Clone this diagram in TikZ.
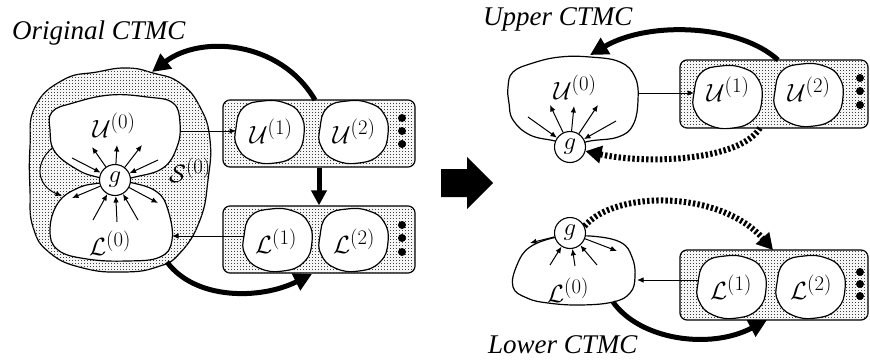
\documentclass[tikz,border=0pt]{standalone}
\usepackage[no-math]{fontspec}
\setmainfont{Liberation Serif}
\usetikzlibrary{arrows.meta,patterns.meta}
\tikzdeclarepattern{name=stipdots,type=uncolored,bounding box={(0pt,0pt) and (3pt,3pt)},tile size={(3pt,3pt)},code={\fill (0pt,0pt) rectangle (1pt,1pt);}}
\newcommand\myblob[1]{\draw[blobline,shift={#1}] plot[smooth cycle,tension=0.8] coordinates {(-33,-4) (-26,-24) (-6,-31) (16,-29) (31,-18) (35,2) (27,22) (6,31) (-18,28) (-32,14)};}
\begin{document}
\begin{tikzpicture}[x=1pt,y=-1pt,
  blobline/.style={draw=black,line width=1.2pt,fill=white},
  stip/.style={fill=black!4,postaction={pattern=stipdots,pattern color=black!75}},
  boxst/.style={draw=black,line width=1.2pt,stip,rounded corners=7pt,minimum width=192pt,minimum height=67pt,inner sep=0pt},
  gnode/.style={circle,draw,line width=1.1pt,fill=white,minimum size=31pt,inner sep=0pt,font=\fontsize{25}{25}\selectfont},
  lab/.style={font=\fontsize{31}{31}\selectfont,inner sep=0pt},
  ttl/.style={font=\fontsize{27}{30}\selectfont\itshape,anchor=base west,inner sep=0pt},
  sarr/.style={line width=1pt,-{Latex[length=6.5pt,width=5.5pt]}},
  thk/.style={line width=5pt,-{Triangle[length=18pt,width=18pt]}},
  dotarr/.style={line width=6pt,dash pattern=on 2.4pt off 2.2pt,-{Triangle[length=16pt,width=17pt]}},
  dotn/.style={circle,fill=black,inner sep=0pt,minimum size=8pt}
]
\useasboundingbox (0,0) rectangle (870,362);

% titles
\node[ttl] (tOrig) at (12,39) {Original CTMC};
\node[ttl] (tUp) at (483,25) {Upper CTMC};
\node[ttl] (tLow) at (488,353) {Lower CTMC};

% ===== left: original CTMC =====
\draw[line width=1.2pt,stip] plot[smooth cycle,tension=0.8] coordinates {(35,107) (63,80) (97,72) (127,68) (153,73) (180,83) (200,107) (210,140) (208,180) (200,220) (180,253) (157,267) (123,272) (83,268) (50,253) (33,227) (30,190) (30,147)};
\draw[blobline] plot[smooth cycle,tension=0.7] coordinates {(52,112) (73,103) (110,95) (147,97) (173,103) (180,123) (177,147) (163,168) (135,177) (115,180) (97,177) (78,170) (55,152) (50,130)};
\draw[blobline] plot[smooth cycle,tension=0.7] coordinates {(100,183) (78,188) (58,203) (50,230) (58,250) (87,259) (127,261) (160,257) (172,240) (168,210) (157,192) (133,183) (115,182)};
\node[gnode] (gA) at (115,180) {$g$};
\foreach \p in {(92,147),(117,145),(142,145),(72,198),(158,203)} \draw[sarr] (gA) -- \p;
\foreach \p in {(72,158),(158,160),(93,220),(117,222),(138,220)} \draw[sarr] \p -- (gA);
\node[lab] (U0a) at (114,125) {$\mathcal{U}^{(0)}$};
\node[lab] (L0a) at (110,243) {$\mathcal{L}^{(0)}$};
\node[lab,font=\fontsize{28}{28}\selectfont] (S0) at (190,170) {$\mathcal{S}^{(0)}$};
\coordinate (ULa) at (52,148);
\coordinate (ULb) at (62,196);
\draw[sarr] (ULa) .. controls (33,165) and (38,186) .. (ULb);

\node[boxst] (UBa) at (319,133.5) {};
\node[boxst] (LBa) at (319,239.5) {};
\myblob{(269,132)}
\myblob{(353,132)}
\myblob{(277,240)}
\myblob{(353,240)}
\node[lab] (U1a) at (271,131) {$\mathcal{U}^{(1)}$};
\node[lab] (U2a) at (354,131) {$\mathcal{U}^{(2)}$};
\node[lab] (L1a) at (276,241) {$\mathcal{L}^{(1)}$};
\node[lab] (L2a) at (354,241) {$\mathcal{L}^{(2)}$};
\node[dotn] (da1) at (402,118) {};
\node[dotn] (da2) at (402,131) {};
\node[dotn] (da3) at (402,144) {};
\node[dotn] (da4) at (402,225) {};
\node[dotn] (da5) at (402,238) {};
\node[dotn] (da6) at (402,252) {};

\coordinate (U0r) at (180,131);
\coordinate (U1l) at (236,131);
\coordinate (L1l) at (244,236);
\coordinate (L0r) at (172,236);
\draw[sarr] (U0r) -- (U1l);
\draw[sarr] (L1l) -- (L0r);
\draw[thk,-{Triangle[length=15pt,width=15pt]}] (UBa.south) -- (LBa.north);
\coordinate (UBtop) at (315,100);
\coordinate (S0top) at (152,72);
\draw[thk] (UBtop) .. controls (280,40) and (200,35) .. (S0top);
\coordinate (S0bot) at (167,262);
\coordinate (LBbot) at (312,274);
\draw[thk] (S0bot) .. controls (195,300) and (260,300) .. (LBbot);

% big arrow
\fill (441,169) -- (467,169) -- (467,157) -- (493,183) -- (467,209) -- (467,197) -- (441,197) -- cycle;

% ===== right upper =====
\draw[blobline] plot[smooth cycle,tension=0.7] coordinates {(508,87) (513,72) (533,63) (560,57) (590,57) (620,62) (635,77) (638,100) (633,125) (618,137) (590,141) (570,146) (555,141) (530,135) (513,120) (509,103)};
\node[gnode] (gU) at (570,147) {$g$};
\foreach \p in {(550,105),(574,106),(598,105)} \draw[sarr] (gU) -- \p;
\foreach \p in {(528,117),(616,121)} \draw[sarr] \p -- (gU);
\node[lab] (U0b) at (575,87) {$\mathcal{U}^{(0)}$};
\node[boxst,minimum width=188pt,minimum height=68pt] (UBb) at (774,94) {};
\myblob{(727,97)}
\myblob{(808,95)}
\node[lab] (U1b) at (728,89) {$\mathcal{U}^{(1)}$};
\node[lab] (U2b) at (809,89) {$\mathcal{U}^{(2)}$};
\node[dotn] (db1) at (860,78) {};
\node[dotn] (db2) at (860,91) {};
\node[dotn] (db3) at (860,105) {};
\coordinate (U0rb) at (638,93);
\coordinate (U1lb) at (694,93);
\draw[sarr] (U0rb) -- (U1lb);
\coordinate (UBbtop) at (778,60);
\coordinate (U0btop) at (590,55);
\draw[thk] (UBbtop) .. controls (740,25) and (650,20) .. (U0btop);
\coordinate (UBbbot) at (760,128);
\draw[dotarr] (UBbbot) .. controls (740,160) and (650,165) .. (gU.-15);

% ===== right lower =====
\draw[blobline] plot[smooth cycle,tension=0.7] coordinates {(557,237) (530,247) (517,265) (513,287) (527,298) (548,303) (580,305) (613,302) (630,293) (635,277) (632,257) (620,242) (590,236) (570,238)};
\node[gnode] (gL) at (570,233) {$g$};
\foreach \p in {(530,243),(617,251)} \draw[sarr] (gL) -- \p;
\foreach \p in {(550,265),(575,266),(597,265)} \draw[sarr] \p -- (gL);
\node[lab] (L0b) at (568,290) {$\mathcal{L}^{(0)}$};
\node[boxst,minimum width=188pt,minimum height=70pt] (LBb) at (774,285) {};
\myblob{(731,287)}
\myblob{(810,287)}
\node[lab] (L1b) at (731,287) {$\mathcal{L}^{(1)}$};
\node[lab] (L2b) at (811,287) {$\mathcal{L}^{(2)}$};
\node[dotn] (db4) at (860,272) {};
\node[dotn] (db5) at (860,284) {};
\node[dotn] (db6) at (860,296) {};
\coordinate (L1lb) at (698,280);
\coordinate (L0rb) at (637,280);
\draw[sarr] (L1lb) -- (L0rb);
\coordinate (L0bot) at (613,302);
\coordinate (LBbbot) at (767,320);
\draw[thk] (L0bot) .. controls (640,340) and (710,350) .. (LBbbot);
\coordinate (LBbtop) at (773,250);
\draw[dotarr] (gL.25) .. controls (615,190) and (720,190) .. (LBbtop);
\end{tikzpicture}
\end{document}
